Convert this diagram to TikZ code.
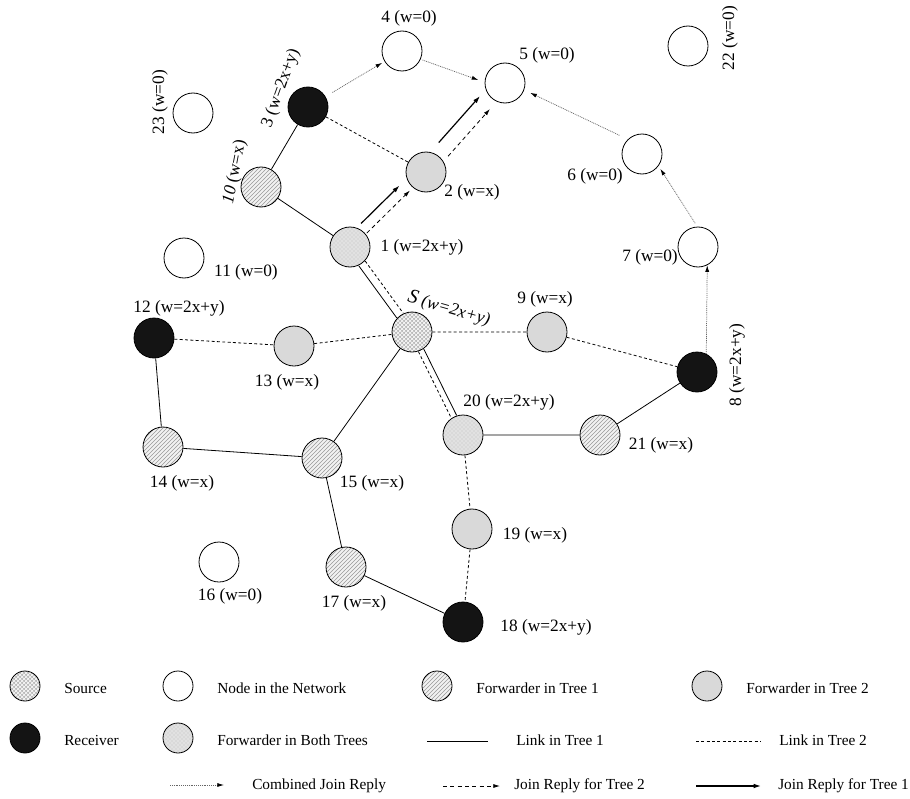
\documentclass[tikz,border=0pt]{standalone}
\usepackage{fontspec}
\setmainfont{Liberation Serif}
\usetikzlibrary{patterns,arrows.meta}

\begin{document}
\begin{tikzpicture}[x=0.75pt,y=-0.75pt,
    every node/.style={inner sep=0pt},
    host/.style={circle,draw,line width=0.6pt,minimum size=30pt},
    plain/.style={host,fill=white},
    src/.style={host,preaction={fill=gray!55},pattern=crosshatch,pattern color=white},
    both/.style={host,preaction={fill=gray!30},pattern=crosshatch dots,pattern color=white},
    fwdone/.style={host,preaction={fill=gray!10},pattern=north east lines,pattern color=gray!80},
    fwdtwo/.style={host,fill=gray!30},
    recv/.style={host,fill=black!92},
    key/.style={minimum size=22.5pt},
    lbl/.style={font=\fontsize{13}{15}\selectfont},
    txt/.style={font=\fontsize{11.5}{13}\selectfont,anchor=west},
    linkone/.style={line width=0.6pt},
    linktwo/.style={line width=0.6pt,dash pattern=on 2.2pt off 1.8pt},
    comb/.style={line width=0.55pt,draw=black!60,dash pattern=on 0.7pt off 0.7pt,-{Latex[length=5pt,width=3pt,color=black]}},
    jrtwo/.style={line width=0.6pt,dash pattern=on 3pt off 2.5pt,-{Latex[length=5pt,width=3pt]}},
    jrone/.style={line width=0.9pt,-{Latex[length=5.5pt,width=3.5pt]}}]
\useasboundingbox (0,0) rectangle (910,799);

% network
\node (4) at (402,51) [plain] {};
\node (5) at (505,83) [plain] {};
\node (3) at (308,107) [recv] {};
\node (23) at (193,113) [plain] {};
\node (22) at (688,46) [plain] {};
\node (10) at (261,187) [fwdone] {};
\node (2) at (426,172) [fwdtwo] {};
\node (6) at (642,154) [plain] {};
\node (1) at (350,247) [both] {};
\node (11) at (184,258) [plain] {};
\node (7) at (698,247) [plain] {};
\node (12) at (154,338) [recv] {};
\node (13) at (294,346) [fwdtwo] {};
\node (S) at (412,332) [src] {};
\node (9) at (547,332) [fwdtwo] {};
\node (8) at (697,372) [recv] {};
\node (20) at (463,435) [both] {};
\node (21) at (600,435) [fwdone] {};
\node (14) at (163,447) [fwdone] {};
\node (15) at (322,458) [fwdone] {};
\node (19) at (472,529) [fwdtwo] {};
\node (16) at (219,562) [plain] {};
\node (17) at (346,567) [fwdone] {};
\node (18) at (463,622) [recv] {};

% weights
\node (l4) at (409,18) [lbl] {4 (w=0)};
\node (l5) at (547,55) [lbl] {5 (w=0)};
\node (l3) at (281,88) [lbl,rotate=70] {3 (w=2x+y)};
\node (l23) at (160,102) [lbl,rotate=90] {23 (w=0)};
\node (l22) at (730,38) [lbl,rotate=90] {22 (w=0)};
\node (l10) at (235,172) [lbl,rotate=79] {\textit{10} (w=x)};
\node (l2) at (472,192) [lbl] {2 (w=x)};
\node (l1) at (422,247) [lbl] {1 (w=2x+y)};
\node (l6) at (595,176) [lbl] {6 (w=0)};
\node (l7) at (650,257) [lbl] {7 (w=0)};
\node (l8) at (737,365) [lbl,rotate=90] {8 (w=2x+y)};
\node (l21) at (661,445) [lbl] {21 (w=x)};
\node (l11) at (246,272) [lbl] {11 (w=0)};
\node (l12) at (179,308) [lbl] {12 (w=2x+y)};
\node (l13) at (287,382) [lbl] {13 (w=x)};
\node (lS) at (449,309) [lbl,rotate=-16] {{\fontsize{15}{15}\selectfont\itshape S} \textit{(w=2x+y)}};
\node (l9) at (545,299) [lbl] {9 (w=x)};
\node (l20) at (509,402) [lbl] {20 (w=2x+y)};
\node (l14) at (182,483) [lbl] {14 (w=x)};
\node (l15) at (372,483) [lbl] {15 (w=x)};
\node (l19) at (535,535) [lbl] {19 (w=x)};
\node (l16) at (230,596) [lbl] {16 (w=0)};
\node (l17) at (354,603) [lbl] {17 (w=x)};
\node (l18) at (546,627) [lbl] {18 (w=2x+y)};

% tree 1
\draw[linkone] (3) -- (10) -- (1);
\draw[linkone,transform canvas={shift={(-2.4pt,-1.8pt)}}] (1) -- (S);
\draw[linkone] (S) -- (15) -- (14) -- (12);
\draw[linkone] (15) -- (17) -- (18);
\draw[linkone,transform canvas={shift={(2pt,1pt)}}] (S) -- (20);
\draw[linkone] (20) -- (21) -- (8);

% tree 2
\draw[linktwo] (3) -- (2);
\draw[linktwo,transform canvas={shift={(2.4pt,1.8pt)}}] (1) -- (S);
\draw[linktwo,transform canvas={shift={(-2pt,-1pt)}}] (S) -- (20);
\draw[linktwo] (12) -- (13) -- (S) -- (9) -- (8);
\draw[linktwo] (20) -- (19) -- (18);

% join replies
\draw[jrone,shorten <=3pt,shorten >=6pt,transform canvas={shift={(-4.7pt,4.8pt)}}] (1) -- (2);
\draw[jrtwo,shorten <=1pt,shorten >=3pt,transform canvas={shift={(1pt,-1pt)}}] (1) -- (2);
\draw[jrone,shorten <=7.5pt,shorten >=4.5pt,transform canvas={shift={(-5.6pt,5pt)}}] (2) -- (5);
\draw[jrtwo,shorten <=4.5pt,shorten >=6.75pt,transform canvas={shift={(3.4pt,-3pt)}}] (2) -- (5);
\draw[comb,shorten <=6pt,shorten >=2pt] (3) -- (4);
\draw[comb,shorten <=1.5pt,shorten >=5pt] (4.-24) -- (5.178);
\draw[comb,shorten <=7pt,shorten >=5pt] (6.134) -- (5.-20);
\draw[comb,shorten <=3pt,shorten >=2.5pt] (7.92) -- (6.-36);
\draw[comb] (8.63) -- (7.297);

% legend
\node (ksrc) at (25,686) [src,key] {};
\node (tsrc) at (64,688) [txt] {Source};
\node (kplain) at (178,686) [plain,key] {};
\node (tplain) at (217,688) [txt] {Node in the Network};
\node (kfone) at (437,686) [fwdone,key] {};
\node (tfone) at (476,688) [txt] {Forwarder in Tree 1};
\node (kftwo) at (707,686) [fwdtwo,key] {};
\node (tftwo) at (746,688) [txt] {Forwarder in Tree 2};
\node (krecv) at (25,738) [recv,key] {};
\node (trecv) at (64,740) [txt] {Receiver};
\node (kboth) at (178,738) [both,key] {};
\node (tboth) at (217,740) [txt] {Forwarder in Both Trees};
\coordinate (la) at (427,741);
\coordinate (lb) at (488,741);
\draw[linkone] (la) -- (lb);
\node (tlone) at (516,740) [txt] {Link in Tree 1};
\coordinate (lc) at (696,741);
\coordinate (ld) at (761,741);
\draw[linktwo] (lc) -- (ld);
\node (tltwo) at (779,740) [txt] {Link in Tree 2};
\coordinate (ra) at (170,785);
\coordinate (rb) at (224,785);
\draw[comb] (ra) -- (rb);
\node (tcomb) at (252,786) [txt] {Combined Join Reply};
\coordinate (rc) at (443,786);
\coordinate (rd) at (500,786);
\draw[jrtwo] (rc) -- (rd);
\node (tjrtwo) at (514,786) [txt] {Join Reply for Tree 2};
\coordinate (re) at (696,786);
\coordinate (rf) at (761,786);
\draw[jrone] (re) -- (rf);
\node (tjrone) at (778,786) [txt] {Join Reply for Tree 1};
\end{tikzpicture}
\end{document}
